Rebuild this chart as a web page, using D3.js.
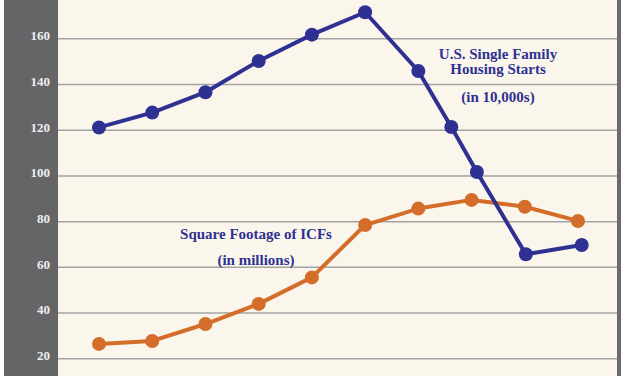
<!DOCTYPE html>
<html>
<head>
<meta charset="utf-8">
<script src="https://cdn.jsdelivr.net/npm/d3@7"></script>
<style>
  body { margin: 0; background: #fff; }
  svg { display: block; }
  .tick text { font-family: "Liberation Serif", serif; font-weight: bold; font-size: 13px; fill: #eeeeee; }
  .note { font-family: "Liberation Serif", serif; font-weight: bold; font-size: 15px; fill: #2e3192; }
</style>
</head>
<body>
<div id="chart"></div>
<script>
// x positions are years (housing starts has a few in-between readings)
const housingYears = [2000, 2001, 2002, 2003, 2004, 2005, 2006, 2006.62, 2007.1, 2008.02, 2009.07];
const housingStarts = [121, 127.5, 136.4, 150.1, 161.6, 171.4, 145.7, 121.2, 101.5, 65.5, 69.6];

const icfYears = [2000, 2001, 2002, 2003, 2004, 2005, 2006, 2007, 2008, 2009];
const icfFootage = [26.3, 27.6, 35.0, 43.8, 55.4, 78.3, 85.5, 89.3, 86.3, 80.1];

const yTicks = [20, 40, 60, 80, 100, 120, 140, 160];

const W = 627, H = 376;
const plotLeft = 58, plotRight = 617;

const svg = d3.select("#chart").append("svg")
    .attr("width", W)
    .attr("height", H);

// backgrounds
svg.append("rect").attr("x", 4).attr("y", 0).attr("width", plotLeft - 4).attr("height", H).attr("fill", "#656567");
svg.append("rect").attr("x", plotLeft).attr("y", 0).attr("width", plotRight - plotLeft).attr("height", H).attr("fill", "#faf6ec");
svg.append("rect").attr("x", plotRight).attr("y", 0).attr("width", 4).attr("height", H).attr("fill", "#6a6a6c");

const x = d3.scaleLinear()
    .domain([2000, 2009])
    .range([99, 578]);

const y = d3.scaleLinear()
    .domain([20, 160])
    .range([358.3, 38.3]);

// y axis + gridlines
const yAxis = svg.append("g")
    .attr("transform", `translate(${plotLeft},0)`)
    .call(d3.axisLeft(y).tickValues(yTicks).tickSize(-(plotRight - plotLeft)).tickPadding(8));
yAxis.select(".domain").remove();
yAxis.selectAll(".tick line").attr("stroke", "#a3a3a3").attr("stroke-width", 1.5);
yAxis.selectAll(".tick text").attr("dy", "0.1em");

const line = d3.line();

function drawSeries(xs, vals, color) {
    const pts = xs.map((v, i) => [x(v), y(vals[i])]);
    svg.append("path")
        .attr("d", line(pts))
        .attr("fill", "none")
        .attr("stroke", color)
        .attr("stroke-width", 4)
        .attr("stroke-linejoin", "round");
    svg.selectAll(null)
        .data(pts)
        .enter()
        .append("circle")
        .attr("cx", d => d[0])
        .attr("cy", d => d[1])
        .attr("r", 7)
        .attr("fill", color);
}

drawSeries(icfYears, icfFootage, "#d46d29");
drawSeries(housingYears, housingStarts, "#2e3192");

// labels
const notes = [
    { text: "U.S. Single Family", x: 498, y: 59 },
    { text: "Housing Starts", x: 498, y: 74 },
    { text: "(in 10,000s)", x: 498, y: 102 },
    { text: "Square Footage of ICFs", x: 256, y: 239 },
    { text: "(in millions)", x: 256, y: 265 }
];
svg.selectAll(".note")
    .data(notes)
    .enter()
    .append("text")
    .attr("class", "note")
    .attr("x", d => d.x)
    .attr("y", d => d.y)
    .attr("text-anchor", "middle")
    .text(d => d.text);
</script>
</body>
</html>
